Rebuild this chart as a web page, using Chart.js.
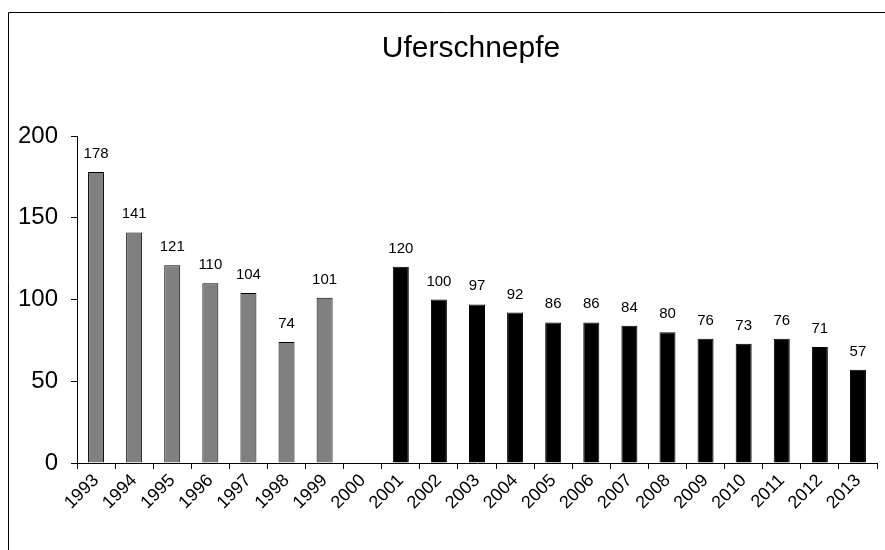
<!DOCTYPE html>
<html>
<head>
<meta charset="utf-8">
<script src="https://cdn.jsdelivr.net/npm/chart.js@4"></script>
<style>
    body { margin: 0; background: #fff; }
</style>
</head>
<body>
<canvas id="chart" width="885" height="550"></canvas>
<script>
// data
const years = ["1993", "1994", "1995", "1996", "1997", "1998", "1999", "2000", "2001", "2002",
    "2003", "2004", "2005", "2006", "2007", "2008", "2009", "2010", "2011", "2012", "2013"];
const counts = [178, 141, 121, 110, 104, 74, 101, null, 120, 100,
    97, 92, 86, 86, 84, 80, 76, 73, 76, 71, 57];
// first years are drawn grey, later ones black
const greyUntil = "1999";
const yTicks = [0, 50, 100, 150, 200];
const title = "Uferschnepfe";

const font = "'Liberation Sans', Arial, sans-serif";

const barColors = years.map(y => (y <= greyUntil ? "#808080" : "#000000"));

// frame, title and value labels
const extras = {
    id: "extras",
    afterDraw(chart) {
        const ctx = chart.ctx;
        const area = chart.chartArea;
        ctx.save();

        // outer frame (only top and left are visible in the picture)
        ctx.strokeStyle = "#000";
        ctx.lineWidth = 1;
        ctx.beginPath();
        ctx.moveTo(chart.width, 12.5);
        ctx.lineTo(8.5, 12.5);
        ctx.lineTo(8.5, chart.height);
        ctx.stroke();

        // title over the plot area
        ctx.fillStyle = "#000";
        ctx.font = "30px " + font;
        ctx.textAlign = "center";
        ctx.textBaseline = "alphabetic";
        ctx.fillText(title, (area.left + area.right) / 2 - 6, 57);

        // value above each bar
        ctx.font = "15px " + font;
        const meta = chart.getDatasetMeta(0);
        meta.data.forEach((bar, i) => {
            if (counts[i] == null) return;
            ctx.fillText(String(counts[i]), bar.x, bar.y - 14);
        });
        ctx.restore();
    }
};

const ctx = document.getElementById("chart").getContext("2d");

new Chart(ctx, {
    type: "bar",
    data: {
        labels: years,
        datasets: [{
            data: counts,
            backgroundColor: barColors,
            borderColor: "#000",
            borderWidth: 1,
            barPercentage: 0.42,
            categoryPercentage: 1
        }]
    },
    options: {
        responsive: false,
        animation: false,
        layout: {
            padding: { top: 136, right: 8, left: 0, bottom: 0 }
        },
        scales: {
            x: {
                grid: {
                    offset: true,
                    drawOnChartArea: false,
                    drawTicks: true,
                    tickLength: 6,
                    color: "#000"
                },
                border: { color: "#000", width: 1 },
                ticks: {
                    color: "#000",
                    font: { family: font, size: 18 },
                    minRotation: 45,
                    maxRotation: 45,
                    autoSkip: false,
                    padding: 1
                },
                afterFit(scale) { scale.height = 87; }
            },
            y: {
                min: 0,
                max: 200,
                afterBuildTicks(scale) {
                    scale.ticks = yTicks.map(v => ({ value: v }));
                },
                grid: {
                    drawOnChartArea: false,
                    drawTicks: true,
                    tickLength: 6,
                    color: "#000"
                },
                border: { color: "#000", width: 1 },
                ticks: {
                    color: "#000",
                    font: { family: font, size: 24 },
                    padding: 13
                },
                afterFit(scale) { scale.width = 77; }
            }
        },
        plugins: {
            legend: { display: false },
            title: { display: false },
            tooltip: { enabled: false }
        }
    },
    plugins: [extras]
});
</script>
</body>
</html>
